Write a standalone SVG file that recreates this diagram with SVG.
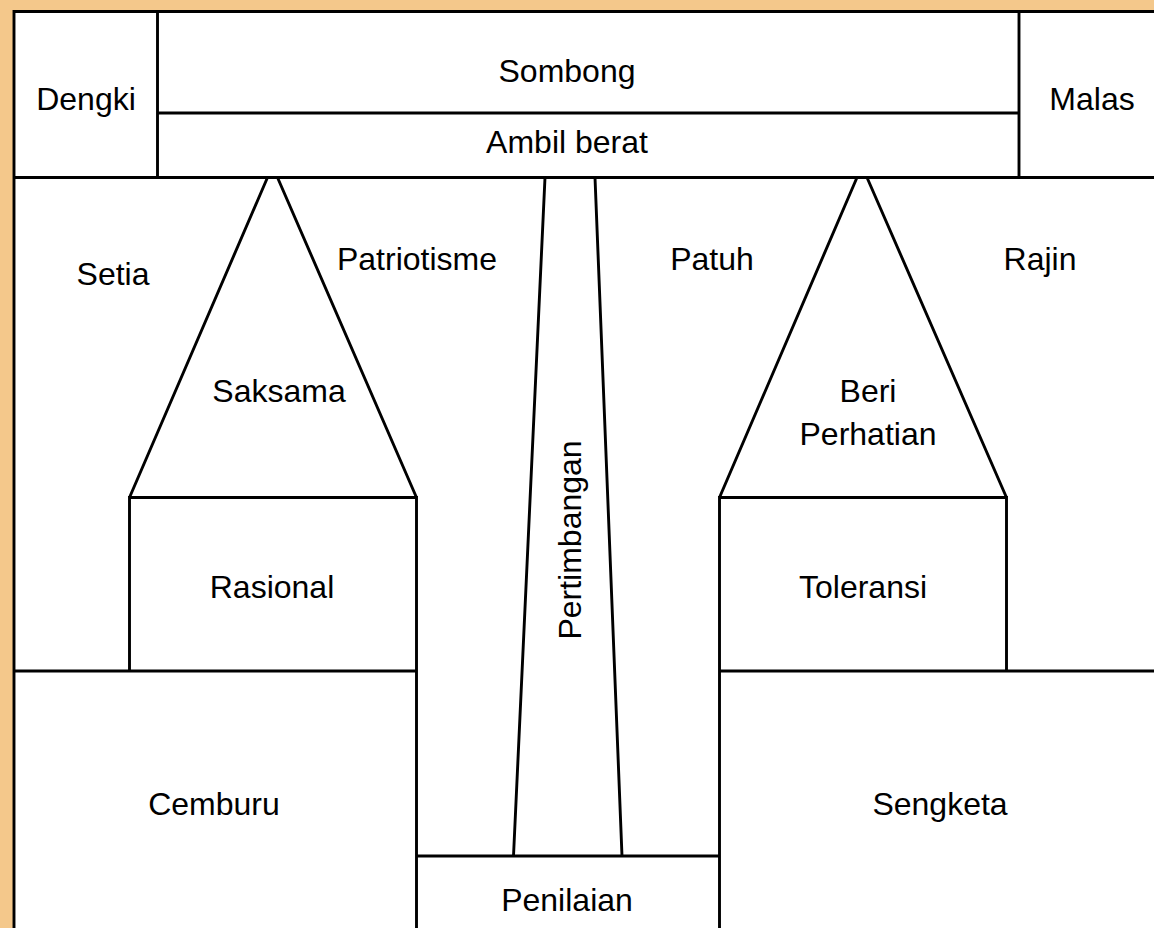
<svg xmlns="http://www.w3.org/2000/svg" width="1154" height="928" viewBox="0 0 1154 928">
<style>
.ln{fill:none;stroke:#000;stroke-width:2.9;stroke-linejoin:miter}
.t{font-family:"Liberation Sans",Arial,sans-serif;font-size:32px;fill:#000;text-anchor:middle}
</style>
<rect x="0" y="0" width="1154" height="928" fill="#F4C88B"/>
<rect x="13" y="10" width="1141" height="918" fill="#fff"/>
<g id="frame">
<path class="ln" d="M14,928 V11.5 H1154"/>
<path class="ln" d="M14,177.5 H1154"/>
</g>
<g id="dengki"><path class="ln" d="M157.5,11.5 V177.5"/><text class="t" x="86" y="110">Dengki</text></g>
<g id="sombong"><path class="ln" d="M157.5,113 H1019"/><text class="t" x="567" y="82">Sombong</text></g>
<g id="ambil-berat"><text class="t" x="567" y="153">Ambil berat</text></g>
<g id="malas"><path class="ln" d="M1019,11.5 V177.5"/><text class="t" x="1092" y="110">Malas</text></g>
<g id="setia"><text class="t" x="113" y="285">Setia</text></g>
<g id="patriotisme"><text class="t" x="417" y="270">Patriotisme</text></g>
<g id="patuh"><text class="t" x="712" y="270">Patuh</text></g>
<g id="rajin"><text class="t" x="1040" y="270">Rajin</text></g>
<g id="saksama"><path class="ln" d="M267.5,177.5 L129.5,497.5 M277.5,177.5 L416.5,497.5"/><text class="t" x="279" y="402">Saksama</text></g>
<g id="rasional"><path class="ln" d="M129.5,671 V497.5 H416.5 V928"/><text class="t" x="272" y="598">Rasional</text></g>
<g id="beri-perhatian"><path class="ln" d="M857,177.5 L719.5,497.5 M867,177.5 L1006.5,497.5"/><text class="t" x="868" y="402">Beri</text><text class="t" x="868" y="445">Perhatian</text></g>
<g id="toleransi"><path class="ln" d="M719.5,928 V497.5 H1006.5 V671"/><text class="t" x="863" y="598">Toleransi</text></g>
<g id="cemburu"><path class="ln" d="M14,671 H416.5"/><text class="t" x="214" y="815">Cemburu</text></g>
<g id="sengketa"><path class="ln" d="M719.5,671 H1154"/><text class="t" x="940" y="815">Sengketa</text></g>
<g id="pertimbangan"><path class="ln" d="M545,177.5 L513.5,856 M595,177.5 L622,856"/><text class="t" transform="translate(581,540) rotate(-90)">Pertimbangan</text></g>
<g id="penilaian"><path class="ln" d="M416.5,856 H719.5"/><text class="t" x="567" y="911">Penilaian</text></g>
<g id="connectors"></g>
</svg>
